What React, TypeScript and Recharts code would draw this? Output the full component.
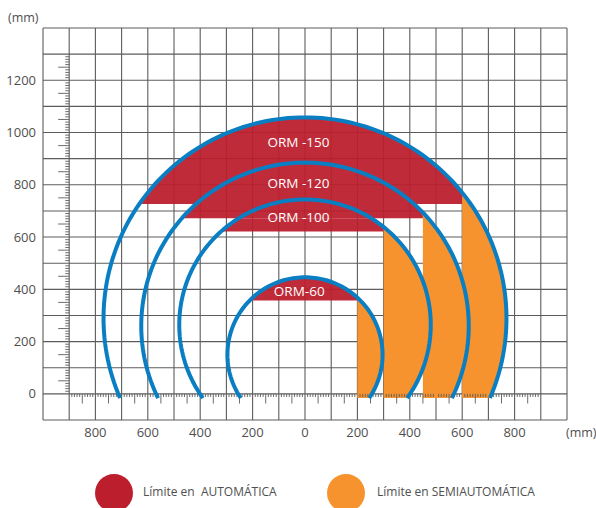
import {
  ComposedChart,
  XAxis,
  YAxis,
  CartesianGrid,
  Area,
  Line,
  ReferenceLine,
  ReferenceDot
} from 'recharts'

// one entry per model, outer arc first
const models = ['ORM -150', 'ORM -120', 'ORM -100', 'ORM-60']
const arcCenterY = [289, 260, 264, 150]
const arcRadius = [769, 625, 480, 296]
const autoFloorY = [727, 672, 621, 357] // bottom of the red (automática) band
const semiStartX = [600, 450, 300, 200] // left edge of the orange (semiautomática) column
const labelX = [-25, -25, -25, -22]
const labelY = [963, 805, 676, 393]
const arcEndY = -16

const xGridTicks = [-900, -800, -700, -600, -500, -400, -300, -200, -100, 0, 100, 200, 300, 400, 500, 600, 700, 800, 900]
const yGridTicks = [0, 100, 200, 300, 400, 500, 600, 700, 800, 900, 1000, 1100, 1200, 1300]
const xLabelTicks = [-800, -600, -400, -200, 0, 200, 400, 600, 800]
const yLabelTicks = [0, 200, 400, 600, 800, 1000, 1200]

const RED = '#BC1E2D'
const ORANGE = '#F6932F'
const BLUE = '#0A7EC2'
const GRID = '#5c5c5c'
const TEXT = '#4f4f4f'
const FONT = '"Open Sans", sans-serif'

const STEPS = 140

function arcPoints(i: number) {
  const c = arcCenterY[i]
  const r = arcRadius[i]
  const t0 = Math.asin((arcEndY - c) / r)
  const start = Math.PI - t0
  const pts = []
  for (let k = 0; k <= STEPS; k++) {
    const t = start + ((t0 - start) * k) / STEPS
    pts.push({ x: r * Math.cos(t), y: c + r * Math.sin(t) })
  }
  return pts
}

// red band of a model, cut where the band of the bigger model already covers it
function redBand(i: number) {
  const c = arcCenterY[i]
  const r = arcRadius[i]
  const floor = autoFloorY[i]
  const cap = i > 0 ? autoFloorY[i - 1] : Infinity
  const x0 = -Math.sqrt(r * r - (floor - c) * (floor - c))
  const x1 = semiStartX[i]
  const pts = []
  for (let k = 0; k <= STEPS; k++) {
    const x = x0 + ((x1 - x0) * k) / STEPS
    pts.push({ x, band: [floor, Math.min(cap, c + Math.sqrt(r * r - x * x))] })
  }
  return pts
}

function orangeColumn(i: number) {
  const c = arcCenterY[i]
  const r = arcRadius[i]
  const a = semiStartX[i]
  const xs: number[] = [a, Math.sqrt(r * r - (c - arcEndY) * (c - arcEndY))]
  const ta = Math.acos(a / r)
  for (let k = 0; k <= STEPS; k++) xs.push(r * Math.cos(ta - (ta * k) / STEPS))
  xs.sort((p, q) => p - q)
  return xs.map((x) => {
    const h = Math.sqrt(Math.max(0, r * r - x * x))
    return { x, band: [Math.max(arcEndY, c - h), c + h] }
  })
}

const xMinor: number[] = []
for (let v = -900; v <= 900; v += 10) if (v % 100 !== 0) xMinor.push(v)
const yMinor: number[] = []
for (let v = 0; v <= 1300; v += 10) if (v % 100 !== 0) yMinor.push(v)

export default function App() {
  return (
    <div style={{ position: 'absolute', left: 0, top: 0, width: 596, height: 508, background: '#fff', fontFamily: FONT }}>
      <ComposedChart width={596} height={508} margin={{ top: 28, right: 29, bottom: 0, left: 0 }}>
        <CartesianGrid stroke={GRID} strokeWidth={1.1} />
        <XAxis
          dataKey="x"
          type="number"
          domain={[-1000, 1000]}
          ticks={xGridTicks}
          allowDataOverflow
          axisLine={false}
          tickLine={false}
          tickSize={0}
          tickMargin={8}
          height={88}
          interval={0}
          tick={{ fill: TEXT, fontSize: 13, fontFamily: FONT }}
          tickFormatter={(v: number) => (xLabelTicks.includes(v) ? String(Math.abs(v)) : '')}
        />
        <YAxis
          type="number"
          domain={[-100, 1400]}
          ticks={yGridTicks}
          allowDataOverflow
          axisLine={false}
          tickLine={false}
          tickSize={0}
          tickMargin={7}
          width={43}
          interval={0}
          tick={{ fill: TEXT, fontSize: 13, fontFamily: FONT }}
          tickFormatter={(v: number) => (yLabelTicks.includes(v) ? String(v) : '')}
        />

        {xMinor.map((v) => (
          <ReferenceLine
            key={'xm' + v}
            segment={[{ x: v, y: 0 }, { x: v, y: v % 50 === 0 ? -37 : -12 }]}
            stroke={GRID}
            strokeWidth={0.9}
          />
        ))}
        {yMinor.map((v) => (
          <ReferenceLine
            key={'ym' + v}
            segment={[{ x: -900, y: v }, { x: v % 50 === 0 ? -942 : -915, y: v }]}
            stroke={GRID}
            strokeWidth={0.9}
          />
        ))}

        {models.map((m, i) => (
          <Area
            key={'red' + m}
            data={redBand(i)}
            dataKey={(d: any) => d.band}
            type="linear"
            stroke="none"
            fill={RED}
            fillOpacity={0.94}
            isAnimationActive={false}
          />
        ))}
        {models.map((m, i) => (
          <Area
            key={'orange' + m}
            data={orangeColumn(i)}
            dataKey={(d: any) => d.band}
            type="linear"
            stroke="none"
            fill={ORANGE}
            fillOpacity={1}
            isAnimationActive={false}
          />
        ))}
        {models.map((m, i) => (
          <Line
            key={'arc' + m}
            data={arcPoints(i)}
            dataKey="y"
            type="linear"
            stroke={BLUE}
            strokeWidth={4}
            dot={false}
            isAnimationActive={false}
          />
        ))}
        {models.map((m, i) => (
          <ReferenceDot
            key={'lbl' + m}
            x={labelX[i]}
            y={labelY[i]}
            r={1}
            fill="none"
            stroke="none"
            label={{ value: m, position: 'center', fill: '#fff', fontSize: 13.5, fontFamily: FONT }}
          />
        ))}
      </ComposedChart>

      <span style={{ position: 'absolute', left: 8, top: 10, fontSize: 12.5, color: TEXT, lineHeight: '16px' }}>(mm)</span>
      <span style={{ position: 'absolute', left: 566, top: 425, fontSize: 12.5, color: TEXT, lineHeight: '16px' }}>(mm)</span>

      <div style={{ position: 'absolute', left: 95, top: 474, width: 38, height: 38, borderRadius: '50%', background: RED }} />
      <span style={{ position: 'absolute', left: 143, top: 484, fontSize: 12, color: TEXT, lineHeight: '16px', whiteSpace: 'pre' }}>
        Límite en  AUTOMÁTICA
      </span>
      <div style={{ position: 'absolute', left: 327, top: 474, width: 38, height: 38, borderRadius: '50%', background: ORANGE }} />
      <span style={{ position: 'absolute', left: 377, top: 484, fontSize: 12, color: TEXT, lineHeight: '16px', whiteSpace: 'pre' }}>
        Límite en SEMIAUTOMÁTICA
      </span>
    </div>
  )
}
